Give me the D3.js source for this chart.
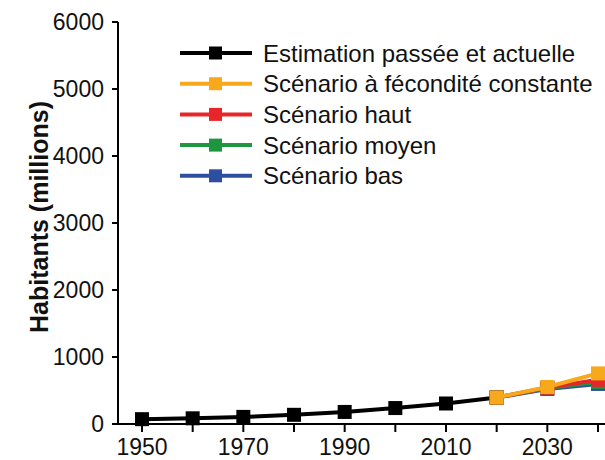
<!DOCTYPE html>
<html><head><meta charset="utf-8">
<script src="https://cdn.jsdelivr.net/npm/d3@7"></script>
<style>
html,body{margin:0;padding:0;background:#fff;overflow:hidden}
text{font-family:"Liberation Sans",Arial,sans-serif;fill:#111}
</style></head>
<body>
<svg id="c" width="605" height="460"></svg>
<script>
const estYears = [1950,1960,1970,1980,1990,2000,2010,2020];
const estValues = [72,85,106,137,180,238,306,395];
const scenYears = [2020,2030,2040];
const constValues = [395,552,755];
const highValues = [395,540,660];
const medValues = [395,532,628];
const lowValues = [395,522,598];
const xTicks = [1950,1960,1970,1980,1990,2000,2010,2020,2030,2040];
const xLabels = [1950,1970,1990,2010,2030];
const yTicks = [0,1000,2000,3000,4000,5000,6000];
const legendLabels = ["Estimation passée et actuelle","Scénario à fécondité constante","Scénario haut","Scénario moyen","Scénario bas"];
const colors = {est:"#000000",const:"#F7A81B",high:"#E8262A",med:"#1E9640",low:"#2E4FA0"};

const svg = d3.select("#c");
const x = d3.scaleLinear().domain([1950,2040]).range([142,598]);
const y = d3.scaleLinear().domain([0,6000]).range([424,22]);
const axisX0 = 118;

// Y axis
const gy = svg.append("g");
gy.append("line").attr("x1",axisX0).attr("x2",axisX0).attr("y1",y(6000)).attr("y2",y(0)).attr("stroke","#000").attr("stroke-width",2);
yTicks.forEach(t=>{
  gy.append("line").attr("x1",axisX0-6).attr("x2",axisX0).attr("y1",y(t)).attr("y2",y(t)).attr("stroke","#000").attr("stroke-width",2);
  gy.append("text").attr("x",axisX0-14).attr("y",y(t)).attr("dy","0.36em").attr("text-anchor","end").style("font-size","23px").text(t);
});
// X axis
const gx = svg.append("g");
gx.append("line").attr("x1",axisX0-1).attr("x2",700).attr("y1",y(0)).attr("y2",y(0)).attr("stroke","#000").attr("stroke-width",2);
xTicks.forEach(t=>{
  gx.append("line").attr("x1",x(t)).attr("x2",x(t)).attr("y1",y(0)).attr("y2",y(0)+8).attr("stroke","#000").attr("stroke-width",2);
});
xLabels.forEach(t=>{
  gx.append("text").attr("x",x(t)).attr("y",455).attr("text-anchor","middle").style("font-size","23px").text(t);
});
// Y label
svg.append("text").attr("transform","translate(39,217) rotate(-90)").attr("text-anchor","middle").attr("dy","0.36em")
  .style("font-size","25px").style("font-weight","bold").text("Habitants (millions)");

const line = d3.line().x(d=>x(d[0])).y(d=>y(d[1]));
function series(years, vals, color){
  const data = years.map((yr,i)=>[yr,vals[i]]);
  svg.append("path").datum(data).attr("d",line).attr("fill","none").attr("stroke",color).attr("stroke-width",4).attr("stroke-linejoin","round");
  svg.append("g").selectAll("rect").data(data).join("rect")
    .attr("x",d=>x(d[0])-7).attr("y",d=>y(d[1])-7).attr("width",14).attr("height",14).attr("fill",color);
}
series(estYears, estValues, colors.est);
series(scenYears, lowValues, colors.low);
series(scenYears, medValues, colors.med);
series(scenYears, highValues, colors.high);
series(scenYears, constValues, colors.const);

// Legend
const legColors = [colors.est,colors.const,colors.high,colors.med,colors.low];
const lg = svg.append("g");
legendLabels.forEach((lab,i)=>{
  const yy = 53 + i*30.7;
  lg.append("line").attr("x1",180).attr("x2",252).attr("y1",yy).attr("y2",yy).attr("stroke",legColors[i]).attr("stroke-width",4);
  lg.append("rect").attr("x",209).attr("y",yy-6.5).attr("width",13).attr("height",13).attr("fill",legColors[i]);
  lg.append("text").attr("x",263).attr("y",yy).attr("dy","0.36em").style("font-size","24px").text(lab);
});
</script>
</body></html>
